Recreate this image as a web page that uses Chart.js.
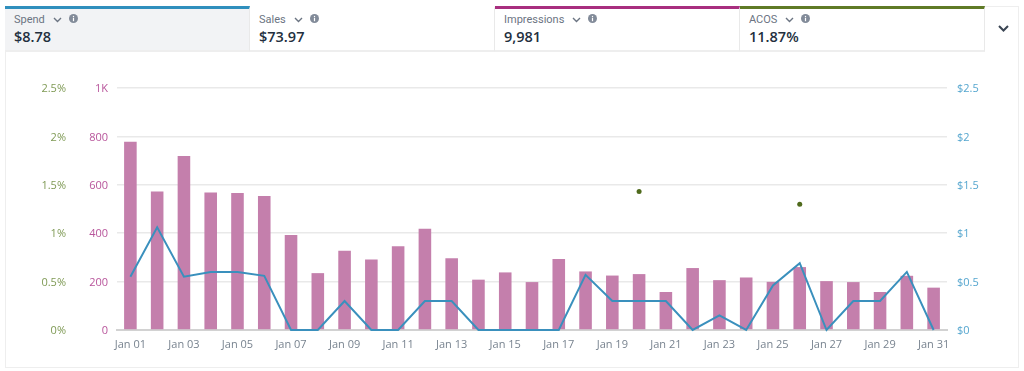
<!DOCTYPE html>
<html>
<head>
<meta charset="utf-8">
<title>Campaign metrics</title>
<script src="https://cdn.jsdelivr.net/npm/chart.js@4"></script>
<style>
    html, body { margin: 0; padding: 0; background: #fff; }
    body { width: 1024px; height: 371px; overflow: hidden; position: relative; font-family: "Open Sans", sans-serif; }
    #frame { position: absolute; left: 5px; top: 6px; width: 1012px; height: 360px; border: 1px solid #eeeeee; }
    #chartWrap { position: absolute; left: 0; top: 0; width: 1024px; height: 371px; }
    .tile { position: absolute; top: 6px; width: 245px; height: 46px; box-sizing: border-box; border-top: 3px solid; border-right: 1px solid #e9e9e9; border-bottom: 2px solid #eeeeee; padding-left: 9px; background: #fff; }
    .tile.active { background: #f2f3f5; }
    .name { position: absolute; top: 3px; font-family: Roboto, sans-serif; font-size: 11px; line-height: 15px; color: #6b7482; white-space: nowrap; }
    .name svg { vertical-align: 0; }
    .name .chev { margin-left: 8px; }
    .name .info { margin-left: 7px; }
    .total { position: absolute; top: 18px; font-size: 14.5px; line-height: 20px; font-weight: 600; color: #232f3e; }
    #more { position: absolute; left: 998px; top: 25px; }
</style>
</head>
<body>
<div id="frame"></div>
<div id="chartWrap"><canvas id="metricsChart"></canvas></div>
<div id="tiles"></div>
<svg id="more" width="11" height="7" viewBox="0 0 11 7"><path d="M1 1l4.5 4.5L10 1" fill="none" stroke="#3a4553" stroke-width="2"/></svg>
<script>
const days = ["Jan 01", "Jan 02", "Jan 03", "Jan 04", "Jan 05", "Jan 06", "Jan 07", "Jan 08", "Jan 09", "Jan 10", "Jan 11",
    "Jan 12", "Jan 13", "Jan 14", "Jan 15", "Jan 16", "Jan 17", "Jan 18", "Jan 19", "Jan 20", "Jan 21",
    "Jan 22", "Jan 23", "Jan 24", "Jan 25", "Jan 26", "Jan 27", "Jan 28", "Jan 29", "Jan 30", "Jan 31"];
const impressions = [778, 572, 719, 568, 566, 554, 393, 235, 327, 291, 346, 418, 297, 208, 238, 198,
    293, 242, 225, 231, 157, 256, 206, 217, 199, 260, 202, 198, 157, 224, 175];
const spend = [0.55, 1.06, 0.55, 0.6, 0.6, 0.56, 0, 0, 0.3, 0, 0, 0.3, 0.3, 0, 0, 0,
    0, 0.57, 0.3, 0.3, 0.3, 0, 0.15, 0, 0.46, 0.69, 0, 0.3, 0.3, 0.6, 0];
const acos = [null, null, null, null, null, null, null, null, null, null, null, null, null, null, null, null,
    null, null, null, 1.43, null, null, null, null, null, 1.3, null, null, null, null, null];

const tileNames = ["Spend", "Sales", "Impressions", "ACOS"];
const tileTotals = ["$8.78", "$73.97", "9,981", "11.87%"];
const tileColors = ["#2f8fbd", "#ffffff", "#a82f7f", "#5f7a26"];

const chevron = '<svg class="chev" width="9" height="6" viewBox="0 0 9 6"><path d="M1 1l3.5 3.5L8 1" fill="none" stroke="#6b7482" stroke-width="1.4"/></svg>';
const infoIcon = '<svg class="info" width="9" height="9" viewBox="0 0 9 9"><circle cx="4.5" cy="4.5" r="4.5" fill="#828b99"/><rect x="3.9" y="3.8" width="1.2" height="3.4" fill="#fff"/><rect x="3.9" y="1.9" width="1.2" height="1.2" fill="#fff"/></svg>';

// Metric tiles above the chart
const tiles = document.getElementById("tiles");
tileNames.forEach((name, i) => {
    const tile = document.createElement("div");
    tile.className = i === 0 ? "tile active" : "tile";
    tile.style.left = 5 + i * 245 + "px";
    tile.style.borderTopColor = tileColors[i];
    tile.innerHTML = `<div class="name">${name}${chevron}${infoIcon}</div><div class="total">${tileTotals[i]}</div>`;
    tiles.appendChild(tile);
});

const tickFont = { family: "'Open Sans', sans-serif", size: 11 };

function fixedWidth(width) {
    return (scale) => {
        scale.width = width;
    };
}

new Chart(document.getElementById("metricsChart"), {
    type: "bar",
    data: {
        labels: days,
        datasets: [
            {
                type: "line",
                label: "ACOS",
                data: acos,
                yAxisID: "yAcos",
                showLine: false,
                pointRadius: 2.5,
                pointBackgroundColor: "#4f6a1c",
                pointBorderWidth: 0,
                order: 0,
            },
            {
                type: "line",
                label: "Spend",
                data: spend,
                yAxisID: "ySpend",
                borderColor: "#3a90bd",
                borderWidth: 2,
                pointRadius: 0,
                tension: 0,
                clip: false,
                order: 1,
            },
            {
                label: "Impressions",
                data: impressions,
                yAxisID: "yImpressions",
                backgroundColor: "#c47fac",
                barPercentage: 0.47,
                categoryPercentage: 1,
                order: 2,
            },
        ],
    },
    options: {
        responsive: true,
        maintainAspectRatio: false,
        animation: false,
        layout: { padding: { top: 88, bottom: 0, left: 0, right: 0 } },
        plugins: {
            legend: { display: false },
            tooltip: { enabled: false },
        },
        scales: {
            x: {
                grid: { display: false, drawTicks: false },
                border: { color: "#d2d2d2", width: 2 },
                afterFit: (scale) => {
                    scale.height = 41;
                },
                ticks: {
                    autoSkip: false,
                    maxRotation: 0,
                    padding: 8,
                    color: "#78838f",
                    font: tickFont,
                    callback: function (value, index) {
                        return index % 2 === 0 ? days[index] : "";
                    },
                },
            },
            yImpressions: {
                position: "left",
                weight: 1,
                min: 0,
                max: 1000,
                afterFit: fixedWidth(47),
                border: { display: false },
                grid: { color: "#e9e9e9", lineWidth: 1.5, drawTicks: false },
                ticks: {
                    stepSize: 200,
                    padding: 9,
                    labelOffset: 1,
                    color: "#b8559b",
                    font: tickFont,
                    callback: (value) => (value === 1000 ? "1K" : value),
                },
            },
            yAcos: {
                position: "left",
                weight: 2,
                min: 0,
                max: 2.5,
                afterFit: fixedWidth(70),
                border: { display: false },
                grid: { display: false, drawTicks: false },
                ticks: {
                    stepSize: 0.5,
                    padding: 4,
                    labelOffset: 1,
                    color: "#7f9a55",
                    font: tickFont,
                    callback: (value) => value + "%",
                },
            },
            ySpend: {
                position: "right",
                min: 0,
                max: 2.5,
                afterFit: fixedWidth(77),
                border: { display: false },
                grid: { display: false, drawTicks: false },
                ticks: {
                    stepSize: 0.5,
                    padding: 10,
                    labelOffset: 1,
                    color: "#55a6cf",
                    font: tickFont,
                    callback: (value) => "$" + value,
                },
            },
        },
    },
});
</script>
</body>
</html>
